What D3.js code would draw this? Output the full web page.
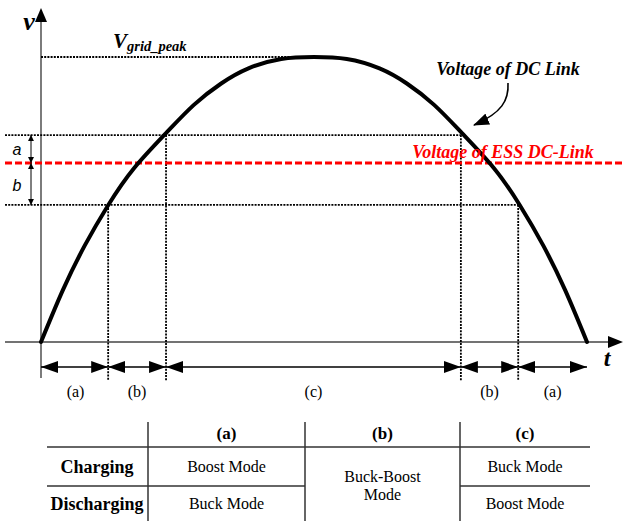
<!DOCTYPE html>
<html><head><meta charset="utf-8">
<script src="https://cdn.jsdelivr.net/npm/d3@7"></script>
<style>html,body{margin:0;padding:0;background:#fff;}svg{display:block;}</style>
</head><body>
<svg id="c" width="625" height="521"></svg>
<script>
// ---- data ----
const curveT = [0, 4, 8, 12.3, 17, 22.9, 28, 33, 38, 44, 50, 56, 62, 67, 72, 77.1, 83, 87.7, 92, 96, 100];
const curveV = [0, 18.2, 33.8, 48.0, 60.9, 73.3, 83.2, 90.7, 96.0, 99.3, 100, 99.3, 96.0, 90.7, 83.2, 73.3, 60.9, 48.0, 33.8, 18.2, 0];
const levelNames = ["peak", "upper", "ess", "lower"];
const levelValues = [100, 72.6, 62.8, 48.1];
const boundaries = [0, 12.3, 22.9, 76.9, 87.4, 100];
const segmentLabels = ["(a)", "(b)", "(c)", "(b)", "(a)"];
const tableHeaders = ["(a)", "(b)", "(c)"];
const rowLabels = ["Charging", "Discharging"];
const chargingModes = ["Boost Mode", "", "Buck Mode"];
const dischargingModes = ["Buck Mode", "", "Boost Mode"];
const mergedMode = ["Buck-Boost", "Mode"];

const svg = d3.select("#c");
const serif = "'Liberation Serif','Times New Roman',serif";
const x = d3.scaleLinear().domain([0, 100]).range([41, 587]);
const y = d3.scaleLinear().domain([0, 100]).range([342, 57]);
const lv = {}; levelNames.forEach((n, i) => lv[n] = levelValues[i]);

const defs = svg.append("defs");
defs.append("marker").attr("id", "bigArrow").attr("markerUnits", "userSpaceOnUse")
  .attr("markerWidth", 17).attr("markerHeight", 12).attr("refX", 17).attr("refY", 6)
  .attr("orient", "auto-start-reverse")
  .append("path").attr("d", "M0,0 L17,6 L0,12 Z").attr("fill", "#000");
defs.append("marker").attr("id", "smallArrow").attr("markerUnits", "userSpaceOnUse")
  .attr("markerWidth", 6).attr("markerHeight", 6).attr("refX", 6).attr("refY", 3)
  .attr("orient", "auto-start-reverse")
  .append("path").attr("d", "M0,0 L6,3 L0,6 Z").attr("fill", "#000");
defs.append("marker").attr("id", "curvArrow").attr("markerUnits", "userSpaceOnUse")
  .attr("markerWidth", 16).attr("markerHeight", 12).attr("refX", 15).attr("refY", 6)
  .attr("orient", "auto")
  .append("path").attr("d", "M0,0 L16,6 L0,12 Z").attr("fill", "#000");

const dot = sel => sel.attr("stroke", "#000").attr("stroke-width", 1.8).attr("stroke-dasharray", "2,1.2").attr("fill", "none");

// axes
svg.append("line").attr("x1", x(0)).attr("x2", x(0)).attr("y1", 20).attr("y2", 378).attr("stroke", "#444").attr("stroke-width", 1.4);
svg.append("path").attr("d", `M${x(0)},8 L${x(0) + 6},22 L${x(0) - 6},22 Z`).attr("fill", "#000");
svg.append("line").attr("x1", 5).attr("x2", 610).attr("y1", y(0)).attr("y2", y(0)).attr("stroke", "#444").attr("stroke-width", 1.4);
svg.append("path").attr("d", `M623,${y(0)} L608,${y(0) - 6} L608,${y(0) + 6} Z`).attr("fill", "#000");

// horizontal reference lines
svg.append("line").call(dot).attr("x1", x(0)).attr("x2", x(46)).attr("y1", y(lv.peak)).attr("y2", y(lv.peak));
svg.append("line").call(dot).attr("x1", 5).attr("x2", x(boundaries[3])).attr("y1", y(lv.upper)).attr("y2", y(lv.upper));
svg.append("line").call(dot).attr("x1", 5).attr("x2", x(boundaries[4])).attr("y1", y(lv.lower)).attr("y2", y(lv.lower));

// vertical dotted lines
const vLevels = [lv.lower, lv.upper, lv.upper, lv.lower];
boundaries.slice(1, 5).forEach((b, i) => {
  svg.append("line").call(dot).attr("x1", x(b)).attr("x2", x(b)).attr("y1", y(vLevels[i])).attr("y2", 381);
});

// red ESS line
svg.append("line").attr("x1", 5).attr("x2", 625).attr("y1", y(lv.ess)).attr("y2", y(lv.ess))
  .attr("stroke", "#ff0000").attr("stroke-width", 3).attr("stroke-dasharray", "7,3");

// curve
const pts = curveT.map((t, i) => [x(t), y(curveV[i])]);
svg.append("path").attr("d", d3.line().curve(d3.curveNatural)(pts))
  .attr("fill", "none").attr("stroke", "#000").attr("stroke-width", 4).attr("stroke-linecap", "round");

// a/b dimension arrows
svg.append("line").attr("x1", 31).attr("x2", 31).attr("y1", y(lv.upper)).attr("y2", y(lv.ess))
  .attr("stroke", "#000").attr("stroke-width", 1).attr("marker-start", "url(#smallArrow)").attr("marker-end", "url(#smallArrow)");
svg.append("line").attr("x1", 31).attr("x2", 31).attr("y1", y(lv.ess)).attr("y2", y(lv.lower))
  .attr("stroke", "#000").attr("stroke-width", 1).attr("marker-start", "url(#smallArrow)").attr("marker-end", "url(#smallArrow)");
svg.append("text").attr("x", 17).attr("y", (y(lv.upper) + y(lv.ess)) / 2 + 6).attr("text-anchor", "middle")
  .attr("font-family", "'Liberation Sans',Arial,sans-serif").attr("font-style", "italic").attr("font-size", 16).text("a");
svg.append("text").attr("x", 17).attr("y", (y(lv.ess) + y(lv.lower)) / 2 + 7).attr("text-anchor", "middle")
  .attr("font-family", "'Liberation Sans',Arial,sans-serif").attr("font-style", "italic").attr("font-size", 16).text("b");

// axis labels
svg.append("text").attr("x", 29).attr("y", 30).attr("text-anchor", "middle").attr("font-family", serif)
  .attr("font-weight", "bold").attr("font-style", "italic").attr("font-size", 26).text("v");
svg.append("text").attr("x", 607).attr("y", 366).attr("text-anchor", "middle").attr("font-family", serif)
  .attr("font-weight", "bold").attr("font-style", "italic").attr("font-size", 24).text("t");

// V_grid_peak
const vg = svg.append("text").attr("x", 113).attr("y", 48).attr("font-family", serif).attr("font-weight", "bold").attr("font-style", "italic");
vg.append("tspan").attr("font-size", 21).text("V");
vg.append("tspan").attr("font-size", 14.5).attr("dy", 3).text("grid_peak");

// DC link label + arrow
svg.append("text").attr("x", 508).attr("y", 75).attr("text-anchor", "middle").attr("font-family", serif)
  .attr("font-weight", "bold").attr("font-style", "italic").attr("font-size", 18).text("Voltage of DC Link");
svg.append("path").attr("d", "M508,83 C509,100 502,113 474,125").attr("fill", "none").attr("stroke", "#000")
  .attr("stroke-width", 1.6).attr("marker-end", "url(#curvArrow)");

// ESS label
svg.append("text").attr("x", 503).attr("y", 158).attr("text-anchor", "middle").attr("font-family", serif)
  .attr("font-weight", "bold").attr("font-style", "italic").attr("font-size", 18).attr("fill", "#ff0000").text("Voltage of ESS DC-Link");

// interval arrows
segmentLabels.forEach((lab, i) => {
  const a = x(boundaries[i]), b = x(boundaries[i + 1]);
  svg.append("line").attr("x1", a).attr("x2", b).attr("y1", 367).attr("y2", 367).attr("stroke", "#000").attr("stroke-width", 1.3)
    .attr("marker-start", "url(#bigArrow)").attr("marker-end", "url(#bigArrow)");
  svg.append("text").attr("x", (a + b) / 2 + (i === 0 ? 1 : 0)).attr("y", 397).attr("text-anchor", "middle")
    .attr("font-family", serif).attr("font-size", 16).text(lab);
});

// table
const colX = [47, 148, 305, 460, 590];
const tl = sel => sel.attr("stroke", "#333").attr("stroke-width", 1.5);
[148, 305, 460].forEach(cx => svg.append("line").call(tl).attr("x1", cx).attr("x2", cx).attr("y1", 422).attr("y2", 521));
svg.append("line").call(tl).attr("x1", colX[0]).attr("x2", colX[4]).attr("y1", 447).attr("y2", 447);
svg.append("line").call(tl).attr("x1", colX[0]).attr("x2", colX[2]).attr("y1", 486).attr("y2", 486);
svg.append("line").call(tl).attr("x1", colX[3]).attr("x2", colX[4]).attr("y1", 486).attr("y2", 486);
const cc = i => (colX[i] + colX[i + 1]) / 2;
tableHeaders.forEach((h, i) => svg.append("text").attr("x", cc(i + 1)).attr("y", 439).attr("text-anchor", "middle")
  .attr("font-family", serif).attr("font-weight", "bold").attr("font-size", 17).text(h));
const rowY = [473, 510];
rowLabels.forEach((r, i) => svg.append("text").attr("x", 97).attr("y", rowY[i]).attr("text-anchor", "middle")
  .attr("font-family", serif).attr("font-weight", "bold").attr("font-size", 18).text(r));
[chargingModes, dischargingModes].forEach((row, ri) => row.forEach((m, ci) => {
  if (!m) return;
  svg.append("text").attr("x", cc(ci + 1)).attr("y", rowY[ri] - 1).attr("text-anchor", "middle")
    .attr("font-family", serif).attr("font-size", 16).text(m);
}));
mergedMode.forEach((m, i) => svg.append("text").attr("x", cc(2)).attr("y", 482 + i * 18).attr("text-anchor", "middle")
  .attr("font-family", serif).attr("font-size", 16).text(m));
</script>
</body></html>
